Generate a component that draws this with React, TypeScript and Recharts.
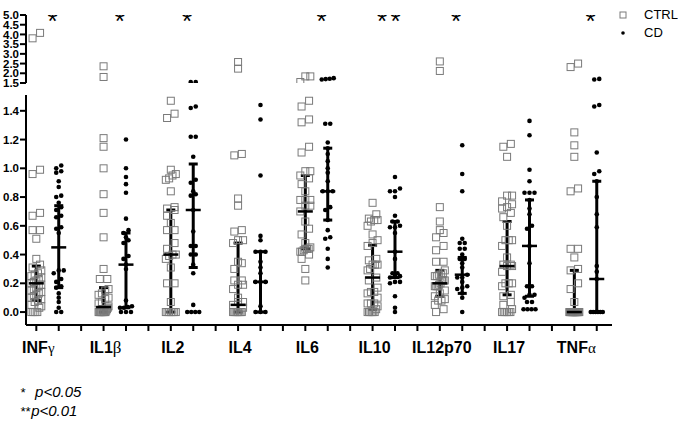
import React from "react";
import { ScatterChart, Scatter, XAxis, YAxis, ErrorBar } from "recharts";

const W = 678;
const H = 425;
const FONT = "'Liberation Sans', Arial, sans-serif";

const cytokines = ["INFγ", "IL1β", "IL2", "IL4", "IL6", "IL10", "IL12p70", "IL17", "TNFα"];
const significance = ["*", "*", "*", "", "*", "* *", "*", "", "*"];
const seriesNames = ["CTRL", "CD"];

const upperTicks = [1.5, 2.0, 2.5, 3.0, 3.5, 4.0, 4.5, 5.0];
const lowerTicks = [0, 0.2, 0.4, 0.6, 0.8, 1.0, 1.2, 1.4];

// CTRL values
const infgCtrl = [4.08, 3.8, 0.99, 0.96, 0.69, 0.67, 0.57, 0.57, 0.51, 0.37, 0.33, 0.31, 0.29, 0.27, 0.26, 0.25, 0.24, 0.23, 0.22, 0.21, 0.2, 0.19, 0.18, 0.17, 0.16, 0.15, 0.14, 0.13, 0.12, 0.11, 0.1, 0.09, 0.08, 0.07, 0.05, 0.04, 0.03, 0, 0, 0, 0];
const il1bCtrl = [2.36, 1.81, 1.21, 1.15, 1.0, 0.82, 0.69, 0.52, 0.3, 0.23, 0.23, 0.16, 0.15, 0.13, 0.12, 0.1, 0.09, 0.07, 0.06, 0.04, 0.03, 0.02, 0.01, 0, 0, 0, 0, 0, 0, 0, 0, 0, 0];
const il2Ctrl = [1.47, 1.38, 1.35, 0.99, 0.96, 0.95, 0.93, 0.92, 0.84, 0.73, 0.72, 0.71, 0.67, 0.62, 0.57, 0.57, 0.48, 0.44, 0.4, 0.4, 0.39, 0.37, 0.31, 0.2, 0.2, 0.07, 0, 0, 0, 0, 0, 0, 0];
const il4Ctrl = [2.58, 2.24, 1.1, 1.09, 0.79, 0.74, 0.57, 0.56, 0.5, 0.5, 0.48, 0.35, 0.34, 0.3, 0.22, 0.22, 0.19, 0.19, 0.16, 0.1, 0.07, 0.07, 0.05, 0.03, 0, 0, 0, 0, 0, 0, 0, 0];
const il6Ctrl = [1.84, 1.84, 1.55, 1.47, 1.43, 1.34, 1.32, 1.15, 1.11, 0.98, 0.98, 0.95, 0.93, 0.89, 0.84, 0.78, 0.78, 0.78, 0.74, 0.74, 0.7, 0.63, 0.58, 0.54, 0.48, 0.45, 0.44, 0.44, 0.44, 0.43, 0.42, 0.42, 0.4, 0.37, 0.3, 0.22];
const il10Ctrl = [0.76, 0.68, 0.65, 0.64, 0.64, 0.63, 0.6, 0.54, 0.5, 0.48, 0.46, 0.37, 0.36, 0.33, 0.33, 0.33, 0.3, 0.29, 0.24, 0.22, 0.17, 0.14, 0.14, 0.13, 0.1, 0.06, 0.06, 0.06, 0.04, 0.02, 0, 0, 0, 0, 0, 0];
const il12Ctrl = [2.61, 2.12, 0.73, 0.63, 0.57, 0.55, 0.52, 0.46, 0.43, 0.35, 0.35, 0.29, 0.27, 0.26, 0.26, 0.25, 0.25, 0.22, 0.22, 0.22, 0.2, 0.19, 0.18, 0.18, 0.18, 0.15, 0.13, 0.11, 0.09, 0.08, 0.08, 0.05, 0.02, 0];
const il17Ctrl = [1.17, 1.15, 1.08, 0.81, 0.81, 0.77, 0.75, 0.73, 0.72, 0.69, 0.66, 0.6, 0.5, 0.5, 0.5, 0.46, 0.38, 0.33, 0.33, 0.32, 0.32, 0.28, 0.2, 0.2, 0.2, 0.18, 0.12, 0.11, 0.07, 0.05, 0.02, 0, 0, 0, 0, 0, 0];
const tnfCtrl = [2.5, 2.32, 1.25, 1.16, 1.08, 0.86, 0.84, 0.44, 0.44, 0.38, 0.3, 0.29, 0.2, 0.16, 0.07, 0, 0, 0, 0, 0, 0, 0, 0, 0, 0, 0, 0, 0, 0, 0, 0, 0, 0, 0, 0];

// CD values
const infgCd = [1.02, 1.0, 0.98, 0.97, 0.91, 0.87, 0.81, 0.8, 0.76, 0.73, 0.71, 0.67, 0.66, 0.59, 0.58, 0.55, 0.29, 0.29, 0.27, 0.23, 0.21, 0.18, 0.17, 0.13, 0.1, 0.07, 0.03, 0, 0];
const il1bCd = [1.2, 1.0, 0.94, 0.89, 0.83, 0.65, 0.57, 0.55, 0.52, 0.5, 0.48, 0.39, 0.37, 0.33, 0.3, 0.08, 0.04, 0.035, 0.03, 0.03, 0, 0, 0];
const il2Cd = [1.55, 1.55, 1.43, 1.42, 1.22, 1.22, 1.08, 0.92, 0.9, 0.84, 0.82, 0.81, 0.71, 0.56, 0.46, 0.46, 0.4, 0.4, 0.33, 0.27, 0.05, 0, 0, 0, 0];
const il4Cd = [1.44, 1.34, 0.95, 0.53, 0.5, 0.42, 0.42, 0.42, 0.35, 0.31, 0.27, 0.21, 0.21, 0.21, 0.04, 0, 0, 0];
const il6Cd = [1.75, 1.72, 1.7, 1.68, 1.31, 1.31, 1.18, 1.14, 1.1, 1.05, 1.0, 0.97, 0.91, 0.84, 0.84, 0.84, 0.73, 0.71, 0.64, 0.57, 0.52, 0.51, 0.44, 0.37, 0.31];
const il10Cd = [0.94, 0.86, 0.84, 0.84, 0.8, 0.67, 0.63, 0.63, 0.6, 0.59, 0.59, 0.55, 0.42, 0.37, 0.27, 0.27, 0.25, 0.25, 0.24, 0.21, 0.21, 0.2, 0.11, 0.03, 0];
const il12Cd = [1.16, 0.96, 0.84, 0.51, 0.48, 0.48, 0.44, 0.44, 0.4, 0.37, 0.37, 0.34, 0.31, 0.26, 0.24, 0.24, 0.21, 0.18, 0.17, 0.16, 0.13, 0.1, 0];
const il17Cd = [1.33, 1.23, 0.99, 0.91, 0.83, 0.83, 0.83, 0.78, 0.72, 0.68, 0.6, 0.58, 0.46, 0.34, 0.18, 0.18, 0.12, 0.12, 0.1, 0.07, 0.07, 0.02, 0.02, 0.02, 0.02];
const tnfCd = [1.71, 1.68, 1.44, 1.43, 1.11, 0.98, 0.96, 0.91, 0.8, 0.68, 0.59, 0.32, 0.28, 0.23, 0, 0, 0, 0, 0, 0];

// median and interquartile range
const ctrlMedian = [0.2, 0.035, 0.4, 0.05, 0.7, 0.24, 0.2, 0.32, 0.0];
const ctrlQ1 = [0.08, 0.0, 0.0, 0.0, 0.44, 0.02, 0.11, 0.12, 0.0];
const ctrlQ3 = [0.32, 0.17, 0.71, 0.48, 0.95, 0.465, 0.29, 0.63, 0.29];
const cdMedian = [0.45, 0.33, 0.71, 0.21, 0.84, 0.42, 0.26, 0.46, 0.23];
const cdQ1 = [0.17, 0.03, 0.31, 0.0, 0.64, 0.24, 0.13, 0.11, 0.0];
const cdQ3 = [0.74, 0.55, 1.03, 0.42, 1.14, 0.63, 0.38, 0.78, 0.91];

const ctrlValues = [infgCtrl, il1bCtrl, il2Ctrl, il4Ctrl, il6Ctrl, il10Ctrl, il12Ctrl, il17Ctrl, tnfCtrl];
const cdValues = [infgCd, il1bCd, il2Cd, il4Cd, il6Cd, il10Cd, il12Cd, il17Cd, tnfCd];

// layout
const PLOT_LEFT = 26;
const PLOT_RIGHT = 612;
const X_DOMAIN: [number, number] = [-0.46, 25.68];
const X_PX = (PLOT_RIGHT - PLOT_LEFT) / (X_DOMAIN[1] - X_DOMAIN[0]);
const UPPER_TOP = 15;
const UPPER_BOTTOM = 83;
const UPPER_DOMAIN: [number, number] = [1.5, 5];
const LOWER_TOP = 95;
const LOWER_BOTTOM = 325;
const LOWER_DOMAIN: [number, number] = [-0.09, 1.51];
const BREAK = 1.51;
const UPPER_PX = (UPPER_BOTTOM - UPPER_TOP) / (UPPER_DOMAIN[1] - UPPER_DOMAIN[0]);
const LOWER_PX = (LOWER_BOTTOM - LOWER_TOP) / (LOWER_DOMAIN[1] - LOWER_DOMAIN[0]);
const xTicks = Array.from({ length: 26 }, (_, i) => i);

type Pt = { x: number; y: number };

// spread close values side by side, like a column scatter
function swarm(values: number[], col: number, pxPerUnit: number, rowGap: number, spacing: number, maxSpan: number): Pt[] {
  const sorted = [...values].sort((a, b) => a - b);
  const rows: number[][] = [];
  for (const v of sorted) {
    const row = rows[rows.length - 1];
    if (row && (v - row[0]) * pxPerUnit < rowGap) row.push(v);
    else rows.push([v]);
  }
  const pts: Pt[] = [];
  rows.forEach((row) => {
    const n = row.length;
    const step = n > 1 ? Math.min(spacing, maxSpan / (n - 1)) : 0;
    row.forEach((v, i) => pts.push({ x: col + ((i - (n - 1) / 2) * step) / X_PX, y: v }));
  });
  return pts;
}

function buildPoints(groups: number[][], offset: number, upper: boolean, rowGap: number, spacing: number, maxSpan: number) {
  const out: Pt[] = [];
  groups.forEach((vals, g) => {
    const sel = vals.filter((v) => (upper ? v > BREAK : v <= BREAK));
    out.push(...swarm(sel, g * 3 + offset, upper ? UPPER_PX : LOWER_PX, rowGap, spacing, maxSpan));
  });
  return out;
}

const ctrlUpper = buildPoints(ctrlValues, 0, true, 6, 7.5, 10);
const ctrlLower = buildPoints(ctrlValues, 0, false, 6, 7.5, 10);
const cdUpper = buildPoints(cdValues, 1, true, 4, 5, 12);
const cdLower = buildPoints(cdValues, 1, false, 4, 5, 12);

const ctrlSummary = ctrlMedian.map((m, g) => ({ x: g * 3, y: m, err: [m - ctrlQ1[g], ctrlQ3[g] - m] }));
const cdSummary = cdMedian.map((m, g) => ({ x: g * 3 + 1, y: m, err: [m - cdQ1[g], cdQ3[g] - m] }));
const stars = significance
  .map((s, g) => ({ x: g * 3 + 0.5, y: 5, label: s }))
  .filter((d) => d.label);

const Square = (props: any) => (
  <rect x={props.cx - 3.5} y={props.cy - 3.5} width={7} height={7} fill="none" stroke="#7a7a7a" strokeWidth={1} />
);
const Dot = (props: any) => <circle cx={props.cx} cy={props.cy} r={2.3} fill="#000" />;
const MedianLine = (props: any) => (
  <line x1={props.cx - 7.5} x2={props.cx + 7.5} y1={props.cy} y2={props.cy} stroke="#000" strokeWidth={2.5} />
);
const Star = (props: any) => (
  <text x={props.cx + 4} y={props.cy + 15} textAnchor="middle" fontFamily={FONT} fontSize={26} letterSpacing={-2} fill="#000">
    {props.payload.label}
  </text>
);

const CategoryTick = (props: any) => {
  const { x, y, payload } = props;
  const v = payload.value;
  if (v % 3 !== 0) return <g />;
  const name = cytokines[v / 3];
  const m = name.match(/^(.*?)([α-ω]?)$/) || [name, name, ""];
  return (
    <text x={x + 2} y={y + 20} textAnchor="middle" fontFamily={FONT} fontWeight="bold" fontSize={16} fill="#000">
      {m[1]}
      {m[2] ? (
        <tspan fontFamily="'Liberation Serif', serif" fontWeight="normal" fontSize={m[2] === "β" ? 17 : 15}>
          {m[2]}
        </tspan>
      ) : null}
    </text>
  );
};

const yTick = { fontSize: 11.5, fontWeight: "bold" as const, fill: "#000", fontFamily: FONT };

export default function App() {
  return (
    <div style={{ position: "absolute", left: 0, top: 0, width: W, height: H, background: "#fff" }}>
      <div style={{ position: "absolute", left: 0, top: 0 }}>
        <ScatterChart width={W} height={H} margin={{ top: LOWER_TOP, right: W - PLOT_RIGHT, bottom: H - LOWER_BOTTOM - 40, left: 0 }}>
          <XAxis
            dataKey="x"
            type="number"
            domain={X_DOMAIN}
            ticks={xTicks}
            interval={0}
            height={40}
            tickSize={6}
            stroke="#000"
            strokeWidth={2}
            tick={<CategoryTick />}
          />
          <YAxis
            dataKey="y"
            type="number"
            domain={LOWER_DOMAIN}
            allowDataOverflow
            ticks={lowerTicks}
            interval={0}
            width={PLOT_LEFT}
            tickSize={6}
            tickMargin={1}
            stroke="#000"
            strokeWidth={2}
            tick={yTick}
            tickFormatter={(v: number) => v.toFixed(1)}
          />
          <Scatter data={ctrlLower} shape={<Square />} isAnimationActive={false} />
          <Scatter data={cdLower} shape={<Dot />} isAnimationActive={false} />
          <Scatter data={ctrlSummary} shape={<MedianLine />} isAnimationActive={false}>
            <ErrorBar dataKey="err" direction="y" width={4.5} strokeWidth={3} stroke="#000" isAnimationActive={false} />
          </Scatter>
          <Scatter data={cdSummary} shape={<MedianLine />} isAnimationActive={false}>
            <ErrorBar dataKey="err" direction="y" width={4.5} strokeWidth={3} stroke="#000" isAnimationActive={false} />
          </Scatter>
        </ScatterChart>
      </div>
      <div style={{ position: "absolute", left: 0, top: 0 }}>
        <ScatterChart width={W} height={H} margin={{ top: UPPER_TOP, right: W - PLOT_RIGHT, bottom: H - UPPER_BOTTOM, left: 0 }}>
          <XAxis dataKey="x" type="number" domain={X_DOMAIN} allowDataOverflow hide height={0} />
          <YAxis
            dataKey="y"
            type="number"
            domain={UPPER_DOMAIN}
            allowDataOverflow
            ticks={upperTicks}
            interval={0}
            width={PLOT_LEFT}
            tickSize={6}
            tickMargin={1}
            stroke="#000"
            strokeWidth={2}
            tick={yTick}
            tickFormatter={(v: number) => v.toFixed(1)}
          />
          <Scatter data={ctrlUpper} shape={<Square />} isAnimationActive={false} />
          <Scatter data={cdUpper} shape={<Dot />} isAnimationActive={false} />
          <Scatter data={stars} shape={<Star />} isAnimationActive={false} />
        </ScatterChart>
      </div>
      <div style={{ position: "absolute", left: 618, top: 6, fontFamily: FONT, fontSize: 13, color: "#000", lineHeight: "18px" }}>
        {seriesNames.map((n, i) => (
          <div key={n} style={{ display: "flex", alignItems: "center" }}>
            <svg width={26} height={18}>
              {i === 0 ? (
                <rect x={2} y={6} width={6} height={6} fill="none" stroke="#7a7a7a" />
              ) : (
                <circle cx={5} cy={9} r={1.8} fill="#000" />
              )}
            </svg>
            <span>{n}</span>
          </div>
        ))}
      </div>
      <div style={{ position: "absolute", left: 20, top: 383, fontFamily: FONT, fontSize: 15, fontStyle: "italic", lineHeight: "18px", color: "#000" }}>
        <div>
          <span style={{ fontSize: 13 }}>*</span>
          <span style={{ marginLeft: 10 }}>p&lt;0.05</span>
        </div>
        <div>
          <span style={{ fontSize: 13 }}>**</span>
          <span style={{ marginLeft: 1 }}>p&lt;0.01</span>
        </div>
      </div>
    </div>
  );
}
